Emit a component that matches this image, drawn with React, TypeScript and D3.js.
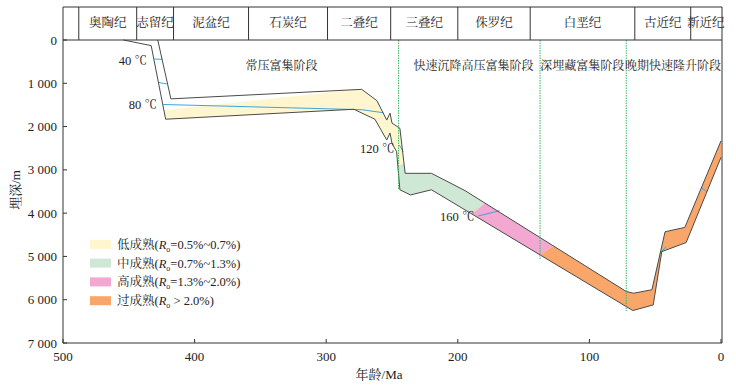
import React from 'react';
import * as d3 from 'd3';

// geologic periods along the top band (Ma)
const periodNames = ['', '奥陶纪', '志留纪', '泥盆纪', '石炭纪', '二叠纪', '三叠纪', '侏罗纪', '白垩纪', '古近纪', '新近纪'];
const periodBounds = [500, 488, 444, 416, 359, 299, 251, 200, 145, 65.5, 23, 0];

// accumulation stages
const stageNames = ['常压富集阶段', '快速沉降高压富集阶段', '深埋藏富集阶段', '晚期快速隆升阶段'];
const stageLabelAges = [334, 188, 105.5, 36.5];
const stageLineAges = [245, 137.5, 72];
const stageLineDepths = [3460, 5080, 6260];

// burial paths of the two horizons: [age Ma, depth m]
const lowerHorizon = [
  [454, 0], [433, 130], [422, 1830], [279, 1600], [263, 1830], [254, 2310], [251.5, 2150],
  [250, 2390], [246.5, 2580], [244, 3460], [236, 3580], [220, 3460], [67, 6250],
  [51.5, 6120], [45, 4890], [26.5, 4680], [0, 2710],
];
const upperHorizon = [
  [428, 0], [418, 1360], [273, 1140], [261.5, 1400], [254, 1850], [251.5, 1690],
  [250, 1920], [244, 2040], [240, 3080], [220, 3080], [194.5, 3480], [72, 5810],
  [66.5, 5850], [52.5, 5770], [42.5, 4430], [27.5, 4330], [0, 2330],
];

// maturity zones (clipped to the strata band)
const lowMatureZone = [[500, 1876], [221, 960], [221, 2610], [251.5, 2980], [500, 2980]];
const midMatureZone = [[251.5, 2980], [221, 2610], [164, 2540], [164, 3373], [200.8, 4317], [251.5, 4317]];
const highMatureZone = [[164, 3373], [111, 3373], [111, 4419], [152.7, 5278], [200.8, 5278], [200.8, 4317]];
const overMatureZone = [[111, 4419], [111, 1386], [-10, 1386], [-10, 7200], [183, 7200], [152.7, 5278]];

const maturityNames = ['低成熟', '中成熟', '高成熟', '过成熟'];
const maturityRanges = ['=0.5%~0.7%', '=0.7%~1.3%', '=1.3%~2.0%', ' > 2.0%'];
const maturityColors = ['#fff6cf', '#cfe8d5', '#f2a8d0', '#f9a66b'];

// isotherms
const isotherms = [
  [[430.6, 440], [424.5, 446]],
  [[427.6, 980], [421.2, 1015]],
  [[423.8, 1490], [273, 1610], [256.6, 1680]],
  [[244.4, 2425], [241.4, 2580]],
  [[184.4, 4065], [168.5, 3945]],
  [[46.4, 4925], [41.8, 4775]],
  [[14.7, 3410], [10.9, 3505]],
];

const depthTicks = [0, 1000, 2000, 3000, 4000, 5000, 6000, 7000];
const ageTicks = [500, 400, 300, 200, 100, 0];

const W = 736;
const H = 385;
const serif = "'Liberation Serif', 'Times New Roman', 'Noto Serif CJK SC', 'Noto Sans CJK SC', serif";
const lineColor = '#4a4a4a';
const isoColor = '#3aa6dc';

const fmtDepth = (d: number) => (d >= 1000 ? `${Math.floor(d / 1000)} 000` : `${d}`);

export default function App() {
  const x = d3.scaleLinear().domain([500, 0]).range([63, 721]);
  const y = d3.scaleLinear().domain([0, 7000]).range([40, 343]);
  const line = d3.line<number[]>().x(d => x(d[0])).y(d => y(d[1]));

  const band = [...lowerHorizon, ...upperHorizon.slice().reverse()];
  const zones = [lowMatureZone, midMatureZone, highMatureZone, overMatureZone];

  const left = x(500);
  const right = 722;
  const top = 7;
  const bottom = y(7000);

  return (
    <svg width={W} height={H} style={{ position: 'absolute', left: 0, top: 0, background: '#fff' }}
      fontFamily={serif}>
      <defs>
        <clipPath id="band">
          <path d={line(band) + 'Z'} />
        </clipPath>
      </defs>

      {/* maturity fills */}
      <g clipPath="url(#band)">
        {zones.map((z, i) => (
          <path key={i} d={line(z) + 'Z'} fill={maturityColors[i]} />
        ))}
      </g>

      {/* isotherms */}
      {isotherms.map((iso, i) => (
        <path key={i} d={line(iso) || ''} fill="none" stroke={isoColor} strokeWidth={1} />
      ))}

      {/* horizon burial paths */}
      <path d={line(lowerHorizon) || ''} fill="none" stroke={lineColor} strokeWidth={1} />
      <path d={line(upperHorizon) || ''} fill="none" stroke={lineColor} strokeWidth={1} />

      {/* stage separators */}
      {stageLineAges.map((a, i) => (
        <line key={i} x1={x(a)} x2={x(a)} y1={y(0)} y2={y(stageLineDepths[i])}
          stroke="#36b868" strokeWidth={1} strokeDasharray="1.5,1" />
      ))}
      {stageNames.map((s, i) => (
        <text key={s} x={x(stageLabelAges[i])} y={66} textAnchor="middle" dominantBaseline="central"
          fontSize={12} fill="#222">{s}</text>
      ))}

      {/* temperature labels */}
      <text x={147} y={61} textAnchor="end" dominantBaseline="central" fontSize={12.5} fill="#222">40 ℃</text>
      <text x={157} y={105} textAnchor="end" dominantBaseline="central" fontSize={12.5} fill="#222">80 ℃</text>
      <text x={360} y={148.5} dominantBaseline="central" fontSize={12.5} fill="#222">120 ℃</text>
      <text x={440} y={217} dominantBaseline="central" fontSize={12.5} fill="#222">160 ℃</text>

      {/* period header */}
      <line x1={left} x2={right} y1={top} y2={top} stroke="#333" />
      {periodBounds.slice(0, -1).map((b, i) => (
        <line key={i} x1={x(b)} x2={x(b)} y1={top} y2={y(0)} stroke="#333" />
      ))}
      {periodNames.map((p, i) => (
        <text key={i} x={(x(periodBounds[i]) + x(periodBounds[i + 1])) / 2} y={23}
          textAnchor="middle" dominantBaseline="central" fontSize={12.5} fill="#222">{p}</text>
      ))}

      {/* frame */}
      <line x1={left} x2={right} y1={y(0)} y2={y(0)} stroke="#333" />
      <line x1={left} x2={left} y1={y(0)} y2={bottom} stroke="#333" />
      <line x1={left} x2={right} y1={bottom} y2={bottom} stroke="#333" />
      <line x1={right} x2={right} y1={top} y2={bottom} stroke="#333" />

      {/* y axis */}
      {depthTicks.map(t => (
        <g key={t}>
          <line x1={left} x2={left + 4} y1={y(t)} y2={y(t)} stroke="#333" />
          <text x={left - 6} y={y(t)} textAnchor="end" dominantBaseline="central" fontSize={13} fill="#222">
            {fmtDepth(t)}
          </text>
        </g>
      ))}
      <text transform={`translate(15,190) rotate(-90)`} textAnchor="middle" dominantBaseline="central"
        fontSize={13} fill="#222">埋深/m</text>

      {/* x axis */}
      {ageTicks.map(t => (
        <g key={t}>
          <line x1={x(t)} x2={x(t)} y1={bottom} y2={bottom - 4} stroke="#333" />
          <text x={x(t)} y={356} textAnchor="middle" dominantBaseline="central" fontSize={13} fill="#222">{t}</text>
        </g>
      ))}
      <text x={379} y={374} textAnchor="middle" dominantBaseline="central" fontSize={13} fill="#222">年龄/Ma</text>

      {/* legend */}
      {maturityNames.map((m, i) => {
        const cy = 244.3 + i * 18.8;
        return (
          <g key={m}>
            <rect x={90} y={cy - 4.5} width={21} height={9} fill={maturityColors[i]} />
            <text x={117} y={cy + 4.5} fontSize={12.5} fill="#222">
              {m}(<tspan fontStyle="italic">R</tspan>
              <tspan dy={3} fontSize={8}>o</tspan>
              <tspan dy={-3}>{maturityRanges[i]})</tspan>
            </text>
          </g>
        );
      })}
    </svg>
  );
}
